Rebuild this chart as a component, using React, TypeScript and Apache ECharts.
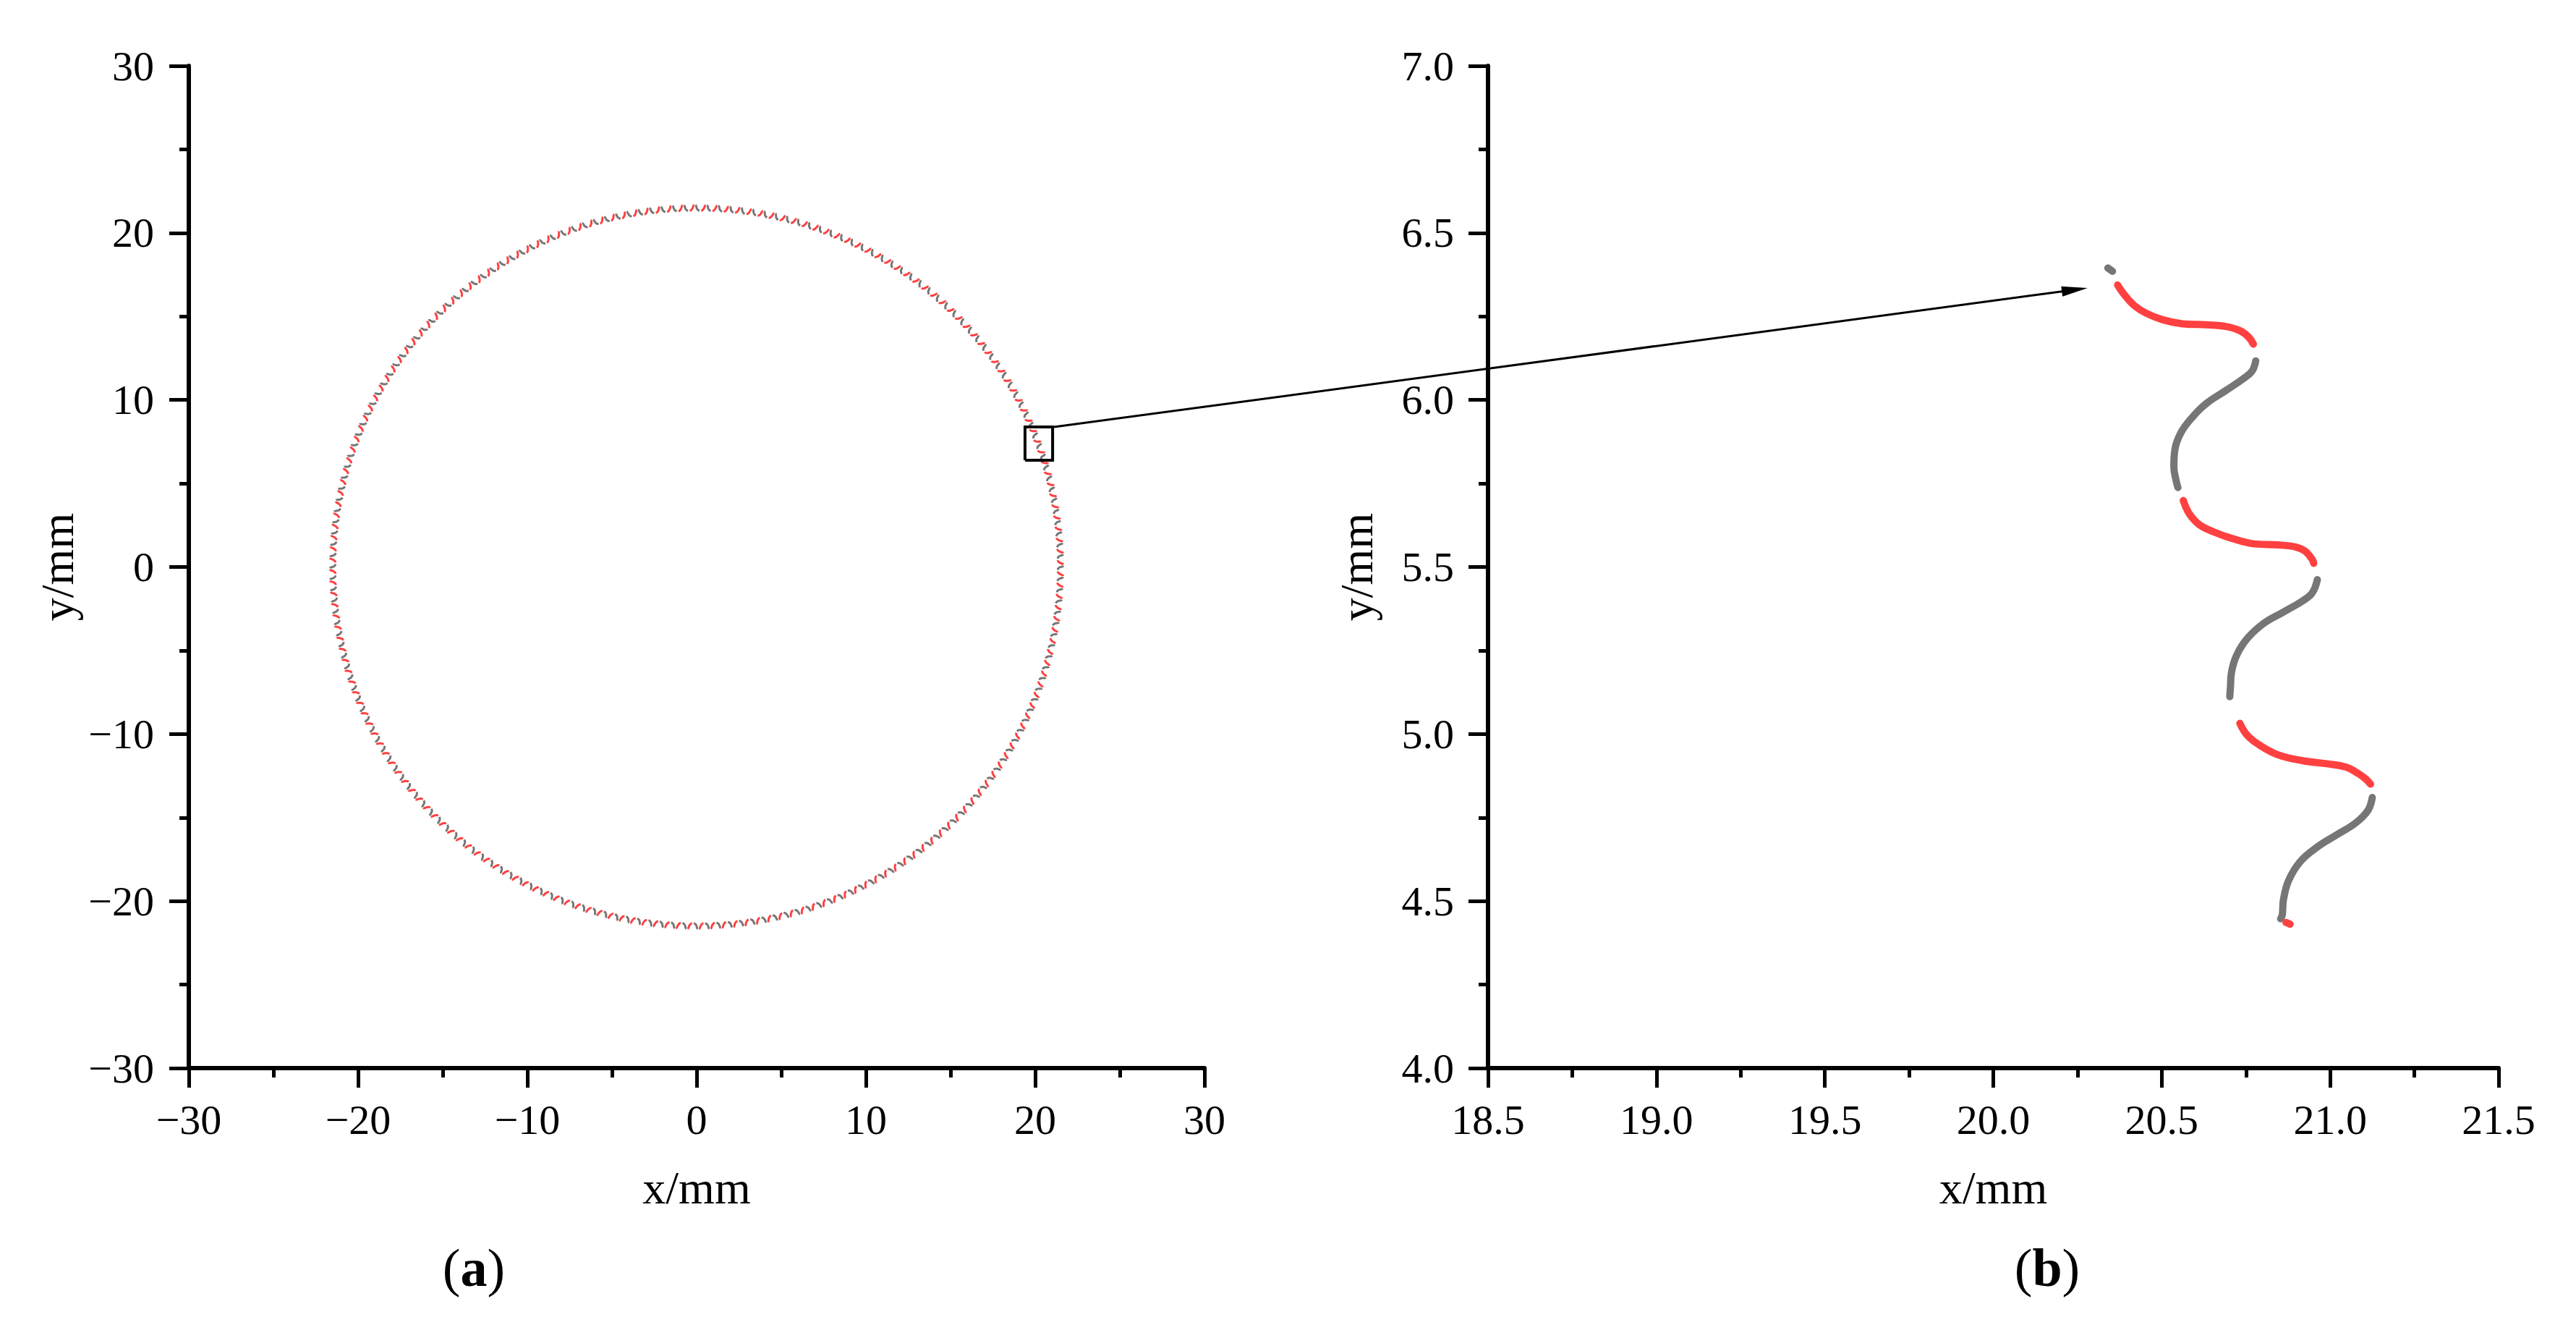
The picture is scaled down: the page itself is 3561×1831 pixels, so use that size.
import React, { useEffect, useRef } from "react";
import * as echarts from "echarts";

// ---------- data ----------
// Axis ranges
const LEFT_MIN = -30;
const LEFT_MAX = 30;
const LEFT_STEP = 10;
const RIGHT_X_MIN = 18.5;
const RIGHT_X_MAX = 21.5;
const RIGHT_Y_MIN = 4.0;
const RIGHT_Y_MAX = 7.0;
const RIGHT_STEP = 0.5;

// Panel (b): the zoomed curve, segment by segment (x/mm, y/mm)
const grayDot: number[][] = [[20.340, 6.395], [20.354, 6.385]];
const red1: number[][] = [
  [20.369, 6.344], [20.389, 6.315], [20.418, 6.283], [20.453, 6.260], [20.503, 6.240],
  [20.561, 6.228], [20.632, 6.225], [20.690, 6.220], [20.733, 6.207], [20.758, 6.188], [20.772, 6.167],
];
const gray1: number[][] = [
  [20.779, 6.117], [20.768, 6.086], [20.740, 6.062], [20.690, 6.028], [20.632, 5.989],
  [20.589, 5.946], [20.557, 5.902], [20.539, 5.851], [20.536, 5.800], [20.543, 5.757], [20.548, 5.738],
];
const red2: number[][] = [
  [20.564, 5.699], [20.582, 5.659], [20.611, 5.627], [20.654, 5.605], [20.704, 5.587],
  [20.776, 5.569], [20.847, 5.566], [20.897, 5.560], [20.926, 5.547], [20.947, 5.522], [20.951, 5.511],
];
const gray2: number[][] = [
  [20.962, 5.462], [20.947, 5.423], [20.919, 5.399], [20.861, 5.365], [20.804, 5.332],
  [20.754, 5.286], [20.722, 5.235], [20.707, 5.184], [20.704, 5.141], [20.702, 5.112],
];
const red3: number[][] = [
  [20.732, 5.032], [20.754, 4.996], [20.790, 4.967], [20.847, 4.937], [20.919, 4.920],
  [20.990, 4.911], [21.047, 4.901], [21.083, 4.882], [21.106, 4.865], [21.120, 4.850],
];
const gray3: number[][] = [
  [21.125, 4.810], [21.112, 4.771], [21.076, 4.734], [21.019, 4.698], [20.962, 4.662],
  [20.911, 4.618], [20.876, 4.560], [20.861, 4.502], [20.858, 4.459], [20.853, 4.447],
];
const redDot: number[][] = [[20.869, 4.436], [20.881, 4.431]];

// Panel (a): the same tooth profile (red2 + gray2) repeats around the part;
// ~1.8 degrees per period -> 200 teeth.
const TEETH = 200;

// Zoom window drawn in panel (a) and arrow target in panel (b)
const zoomBoxX = [19.4, 21.03];
const zoomBoxY = [6.39, 8.38];
const arrowTip = [20.28, 6.335];

const RED = "#ff4040";
const GRAY = "#767676";
const FONT = "Liberation Serif";

function ringOf(seg: number[][]): number[][] {
  const polar = seg.map(([x, y]) => [Math.atan2(y, x), Math.hypot(x, y)]);
  const out: number[][] = [];
  for (let k = 0; k < TEETH; k++) {
    const rot = (k * 2 * Math.PI) / TEETH;
    for (const [a, r] of polar) out.push([r * Math.cos(a + rot), r * Math.sin(a + rot)]);
    out.push([NaN, NaN]);
  }
  return out;
}

export default function App() {
  const ref = useRef<HTMLDivElement>(null);
  useEffect(() => {
    document.body.style.margin = "0";
    if (!ref.current) return;
    const chart = echarts.init(ref.current, undefined, { renderer: "svg" });

    const axisCommon = {
      type: "value" as const,
      splitLine: { show: false },
      axisLine: { show: true, onZero: false, lineStyle: { color: "#000", width: 6 } },
      axisTick: { show: true, inside: false, length: 27, lineStyle: { color: "#000", width: 5 } },
      minorTick: { show: true, splitNumber: 2, length: 13, lineStyle: { color: "#000", width: 5 } },
      axisLabel: { color: "#000", fontSize: 58, fontFamily: FONT },
      nameTextStyle: { color: "#000", fontSize: 64, fontFamily: FONT },
      nameLocation: "middle" as const,
    };
    const minus = (v: number) => String(v).replace("-", "\u2212");

    const rightSeries = [
      { d: grayDot, c: GRAY },
      { d: red1, c: RED },
      { d: gray1, c: GRAY },
      { d: red2, c: RED },
      { d: gray2, c: GRAY },
      { d: red3, c: RED },
      { d: gray3, c: GRAY },
      { d: redDot, c: RED },
    ].map((s) => ({
      type: "line",
      xAxisIndex: 1,
      yAxisIndex: 1,
      data: s.d,
      symbol: "none",
      smooth: 0.4,
      silent: true,
      lineStyle: { color: s.c, width: 10, cap: "round", join: "round" },
    }));

    chart.setOption({
      animation: false,
      backgroundColor: "#fff",
      textStyle: { fontFamily: FONT },
      grid: [
        { left: 261, top: 91, width: 1404, height: 1385 },
        { left: 2057, top: 91, width: 1397, height: 1385 },
      ],
      xAxis: [
        {
          ...axisCommon,
          gridIndex: 0,
          min: LEFT_MIN,
          max: LEFT_MAX,
          interval: LEFT_STEP,
          name: "x/mm",
          nameGap: 133,
          axisLabel: { ...axisCommon.axisLabel, margin: 42, formatter: minus },
        },
        {
          ...axisCommon,
          gridIndex: 1,
          min: RIGHT_X_MIN,
          max: RIGHT_X_MAX,
          interval: RIGHT_STEP,
          name: "x/mm",
          nameGap: 133,
          axisLabel: { ...axisCommon.axisLabel, margin: 42, formatter: (v: number) => v.toFixed(1) },
        },
      ],
      yAxis: [
        {
          ...axisCommon,
          gridIndex: 0,
          min: LEFT_MIN,
          max: LEFT_MAX,
          interval: LEFT_STEP,
          name: "y/mm",
          nameGap: 150,
          axisLabel: { ...axisCommon.axisLabel, margin: 48, formatter: minus },
        },
        {
          ...axisCommon,
          gridIndex: 1,
          min: RIGHT_Y_MIN,
          max: RIGHT_Y_MAX,
          interval: RIGHT_STEP,
          name: "y/mm",
          nameGap: 150,
          axisLabel: { ...axisCommon.axisLabel, margin: 47, formatter: (v: number) => v.toFixed(1) },
        },
      ],
      series: [
        {
          type: "line",
          xAxisIndex: 0,
          yAxisIndex: 0,
          data: ringOf(red2),
          symbol: "none",
          smooth: 0.3,
          silent: true,
          lineStyle: { color: RED, width: 3 },
        },
        {
          type: "line",
          xAxisIndex: 0,
          yAxisIndex: 0,
          data: ringOf(gray2),
          symbol: "none",
          smooth: 0.3,
          silent: true,
          lineStyle: { color: GRAY, width: 3 },
        },
        {
          type: "line",
          xAxisIndex: 0,
          yAxisIndex: 0,
          data: [
            [zoomBoxX[0], zoomBoxY[0]],
            [zoomBoxX[1], zoomBoxY[0]],
            [zoomBoxX[1], zoomBoxY[1]],
            [zoomBoxX[0], zoomBoxY[1]],
            [zoomBoxX[0], zoomBoxY[0]],
          ],
          symbol: "none",
          silent: true,
          lineStyle: { color: "#000", width: 4, join: "miter" },
        },
        ...rightSeries,
      ],
    });

    // arrow from the zoom window (a) to the zoomed curve (b)
    const p0 = chart.convertToPixel({ gridIndex: 0 }, [zoomBoxX[1], zoomBoxY[1]]) as number[];
    const p1 = chart.convertToPixel({ gridIndex: 1 }, arrowTip) as number[];
    const dx = p1[0] - p0[0];
    const dy = p1[1] - p0[1];
    const len = Math.hypot(dx, dy);
    const ux = dx / len;
    const uy = dy / len;
    const headL = 36;
    const headW = 7;
    const bx = p1[0] - ux * headL;
    const by = p1[1] - uy * headL;

    const labelRich = {
      p: { fontSize: 74, fontFamily: FONT, fill: "#000" },
      b: { fontSize: 74, fontFamily: FONT, fontWeight: "bold", fill: "#000" },
    };

    chart.setOption({
      graphic: [
        {
          type: "line",
          shape: { x1: p0[0] + 2, y1: p0[1], x2: bx + ux * 4, y2: by + uy * 4 },
          style: { stroke: "#000", lineWidth: 3 },
          silent: true,
        },
        {
          type: "polygon",
          shape: {
            points: [
              [p1[0], p1[1]],
              [bx - uy * headW, by + ux * headW],
              [bx + uy * headW, by - ux * headW],
            ],
          },
          style: { fill: "#000" },
          silent: true,
        },
        {
          type: "text",
          x: 655,
          y: 1752,
          style: { text: "{p|(}{b|a}{p|)}", align: "center", verticalAlign: "middle", rich: labelRich },
        },
        {
          type: "text",
          x: 2830,
          y: 1752,
          style: { text: "{p|(}{b|b}{p|)}", align: "center", verticalAlign: "middle", rich: labelRich },
        },
      ],
    });

    return () => chart.dispose();
  }, []);

  return (
    <div
      ref={ref}
      style={{ position: "absolute", left: 0, top: 0, width: 3561, height: 1831, background: "#fff" }}
    />
  );
}
